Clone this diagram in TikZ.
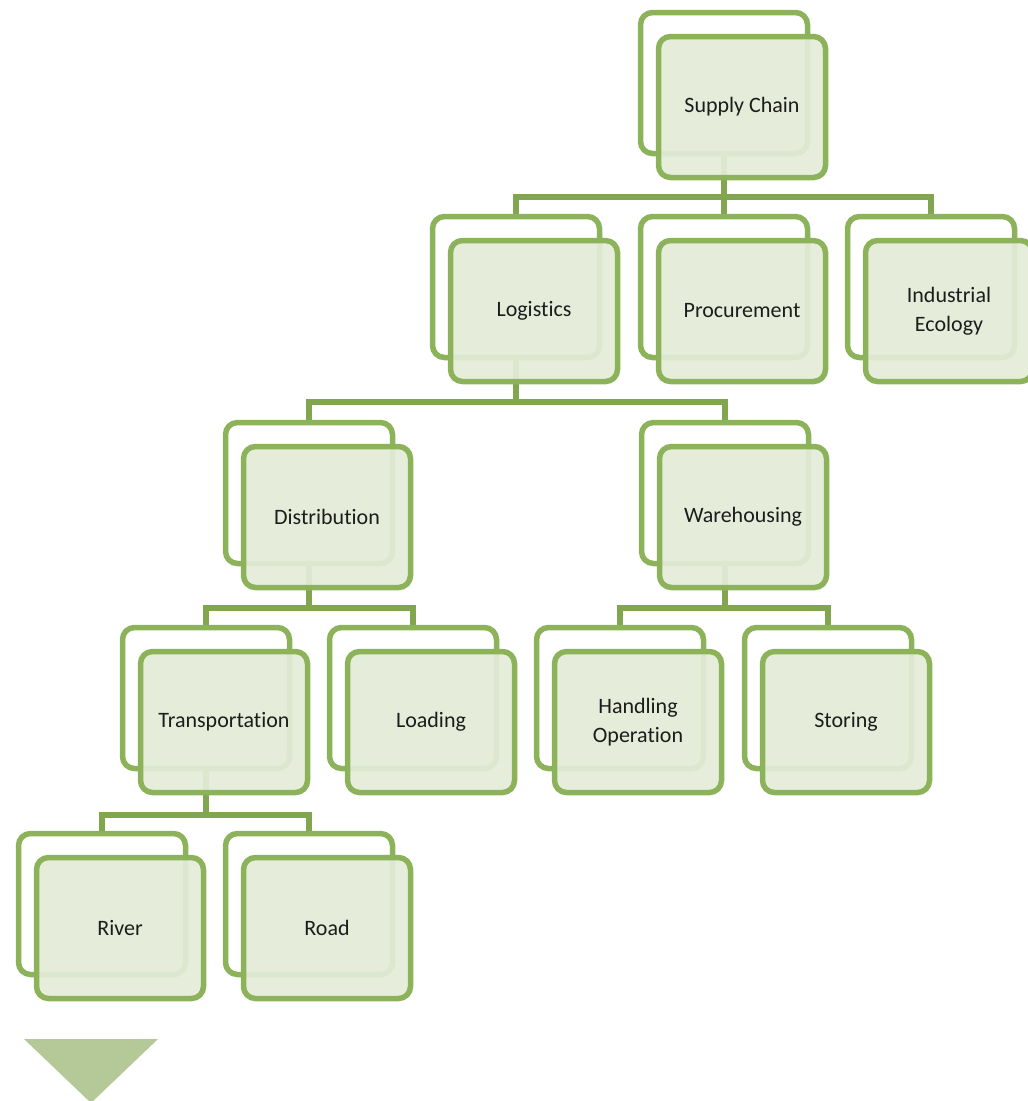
\documentclass[tikz,border=0pt]{standalone}
\usepackage{fontspec}
\setmainfont[Ligatures=NoCommon]{Carlito}
\definecolor{boxline}{HTML}{8DB35A}
\definecolor{connline}{HTML}{82A650}
\definecolor{boxfill}{HTML}{E4ECD8}
\definecolor{arrowfill}{HTML}{B5C898}
\definecolor{textcol}{HTML}{1C1C1C}
\begin{document}
\begin{tikzpicture}[x=1pt,y=-1pt,
  backbox/.style={draw=boxline, line width=5.5pt, fill=white, rounded corners=12pt,
    minimum width=167pt, minimum height=141pt, inner sep=0pt},
  frontbox/.style={draw=boxline, line width=5.5pt, fill=boxfill, fill opacity=0.93, text opacity=1,
    rounded corners=12pt, minimum width=167pt, minimum height=141pt, inner sep=0pt,
    align=center, font=\fontsize{22}{29}\selectfont, text=textcol},
  conn/.style={draw=connline, line width=5.5pt}]
\useasboundingbox (0,0) rectangle (1028,1101);
\begin{scope}
\clip (0,0) rectangle (1028,1101);
% back frame positions (front minus (18,24))
\node[backbox, draw=none, fill=none] (SCb) at (724,83) {};
\node[backbox, draw=none, fill=none] (LOb) at (516,287) {};
\node[backbox, draw=none, fill=none] (PRb) at (724,287) {};
\node[backbox, draw=none, fill=none] (IEb) at (931,287) {};
\node[backbox, draw=none, fill=none] (DIb) at (309,493) {};
\node[backbox, draw=none, fill=none] (WAb) at (725,493) {};
\node[backbox, draw=none, fill=none] (TRb) at (206,698) {};
\node[backbox, draw=none, fill=none] (LDb) at (413,698) {};
\node[backbox, draw=none, fill=none] (HOb) at (620,698) {};
\node[backbox, draw=none, fill=none] (STb) at (828,698) {};
\node[backbox, draw=none, fill=none] (RIb) at (102,904) {};
\node[backbox, draw=none, fill=none] (ROb) at (309,904) {};
% bar levels
\coordinate (bar1) at (0,197);
\coordinate (bar2) at (0,402);
\coordinate (bar3) at (0,608);
\coordinate (bar4) at (0,815);
% connectors
\draw[conn] (SCb.center) -- (SCb.center |- bar1);
\draw[conn] (LOb.north) -- (LOb.north |- bar1) -- (IEb.north |- bar1) -- (IEb.north);
\draw[conn] (PRb.north) -- (PRb.north |- bar1);
\draw[conn] (LOb.center) -- (LOb.center |- bar2);
\draw[conn] (DIb.north) -- (DIb.north |- bar2) -- (WAb.north |- bar2) -- (WAb.north);
\draw[conn] (DIb.center) -- (DIb.center |- bar3);
\draw[conn] (TRb.north) -- (TRb.north |- bar3) -- (LDb.north |- bar3) -- (LDb.north);
\draw[conn] (WAb.center) -- (WAb.center |- bar3);
\draw[conn] (HOb.north) -- (HOb.north |- bar3) -- (STb.north |- bar3) -- (STb.north);
\draw[conn] (TRb.center) -- (TRb.center |- bar4);
\draw[conn] (RIb.north) -- (RIb.north |- bar4) -- (ROb.north |- bar4) -- (ROb.north);
% back frames drawn
\foreach \n in {SCb,LOb,PRb,IEb,DIb,WAb,TRb,LDb,HOb,STb,RIb,ROb}{
  \node[backbox] at (\n.center) {};
}
% front boxes
\node[frontbox] (SC) at (742,107) {Supply Chain};
\node[frontbox] (LO) at (534,311) {Logistics};
\node[frontbox] (PR) at (742,311) {Procurement};
\node[frontbox] (IE) at (949,311) {Industrial\\Ecology};
\node[frontbox] (DI) at (327,517) {Distribution};
\node[frontbox] (WA) at (743,517) {Warehousing};
\node[frontbox] (TR) at (224,722) {Transportation};
\node[frontbox] (LD) at (431,722) {Loading};
\node[frontbox] (HO) at (638,722) {Handling\\Operation};
\node[frontbox] (ST) at (846,722) {Storing};
\node[frontbox] (RI) at (120,928) {River};
\node[frontbox] (RO) at (327,928) {Road};
% triangle
\fill[arrowfill] (24,1039) coordinate (ta) -- (158,1039) coordinate (tb) -- (91,1103) coordinate (tc) -- cycle;
\end{scope}
\end{tikzpicture}
\end{document}
